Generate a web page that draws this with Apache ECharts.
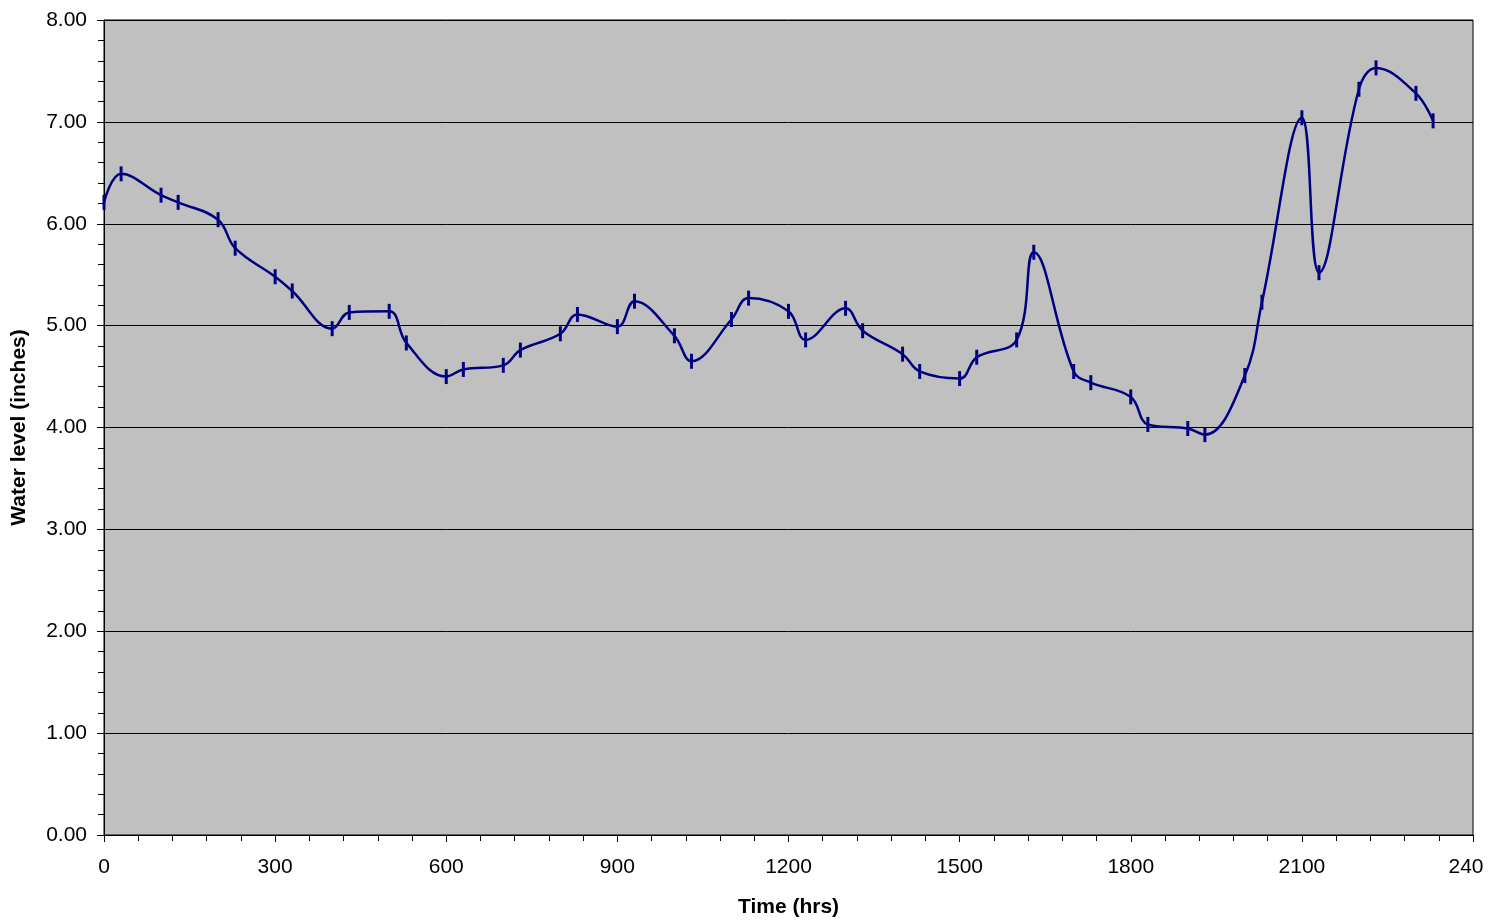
<!DOCTYPE html>
<html>
<head>
<meta charset="utf-8">
<script src="https://cdn.jsdelivr.net/npm/echarts@6/dist/echarts.min.js"></script>
<style>
html,body{margin:0;padding:0;background:#fff;}
#chart{width:1498px;height:923px;}
</style>
</head>
<body>
<div id="chart"></div>
<script>
const timesHrs = [0,30,100,130,200,230,300,330,400,430,500,530,600,630,700,730,800,830,900,930,1000,1030,1100,1130,1200,1230,1300,1330,1400,1430,1500,1530,1600,1630,1700,1730,1800,1830,1900,1930,2000,2030,2100,2130,2200,2230,2300,2330];
const waterLevel = [6.21,6.49,6.28,6.21,6.04,5.76,5.48,5.34,4.97,5.13,5.14,4.83,4.50,4.57,4.61,4.76,4.92,5.11,4.99,5.24,4.90,4.65,5.06,5.27,5.14,4.86,5.17,4.95,4.72,4.55,4.48,4.69,4.86,5.72,4.55,4.44,4.30,4.03,3.99,3.93,4.51,5.23,7.04,5.52,7.32,7.53,7.28,7.01];
const xTickLabels = {0:'0',300:'300',600:'600',900:'900',1200:'1200',1500:'1500',1800:'1800',2100:'2100',2400:'240'};
const xTitle = 'Time (hrs)';
const yTitle = 'Water level (inches)';

const FONT = '"Liberation Sans", Arial, sans-serif';
const chart = echarts.init(document.getElementById('chart'));
const seriesData = timesHrs.map((t, i) => [t, waterLevel[i]]);

chart.setOption({
  animation: false,
  backgroundColor: '#ffffff',
  grid: {
    left: 104, right: 25, top: 20, bottom: 86,
    show: true, backgroundColor: '#C0C0C0', borderColor: '#000', borderWidth: 1
  },
  xAxis: {
    type: 'value', min: 0, max: 2400, interval: 300,
    name: xTitle, nameLocation: 'middle', nameGap: 62,
    nameTextStyle: {fontFamily: FONT, fontSize: 21, fontWeight: 'bold', color: '#000'},
    axisLine: {show: true, onZero: false, lineStyle: {color: '#000', width: 1}},
    axisTick: {show: true, length: 7, lineStyle: {color: '#000'}},
    minorTick: {show: true, splitNumber: 5, length: 6, lineStyle: {color: '#000'}},
    splitLine: {show: false},
    axisLabel: {
      margin: 22, fontFamily: FONT, fontSize: 21, color: '#000',
      showMaxLabel: true, showMinLabel: true,
      formatter: v => v === 2400 ? '{last|' + xTickLabels[v] + '}' : (xTickLabels[v] || ''),
      rich: {last: {fontFamily: FONT, fontSize: 21, color: '#000', padding: [0, 14, 0, 0]}}
    }
  },
  yAxis: {
    type: 'value', min: 0, max: 8, interval: 1,
    name: yTitle, nameLocation: 'middle', nameGap: 74, nameRotate: 90,
    nameTextStyle: {fontFamily: FONT, fontSize: 21, fontWeight: 'bold', color: '#000'},
    axisLine: {show: true, lineStyle: {color: '#000', width: 1}},
    axisTick: {show: true, length: 7, lineStyle: {color: '#000'}},
    minorTick: {show: true, splitNumber: 5, length: 6, lineStyle: {color: '#000'}},
    splitLine: {show: true, lineStyle: {color: '#000', width: 1}},
    axisLabel: {margin: 17, fontFamily: FONT, fontSize: 21, color: '#000', formatter: v => v.toFixed(2)}
  },
  series: [{
    type: 'line',
    data: seriesData,
    smooth: 0.4,
    showAllSymbol: true,
    symbol: 'rect',
    symbolSize: [3, 15],
    lineStyle: {color: '#000080', width: 2.5},
    itemStyle: {color: '#000080'}
  }]
});
</script>
</body>
</html>
